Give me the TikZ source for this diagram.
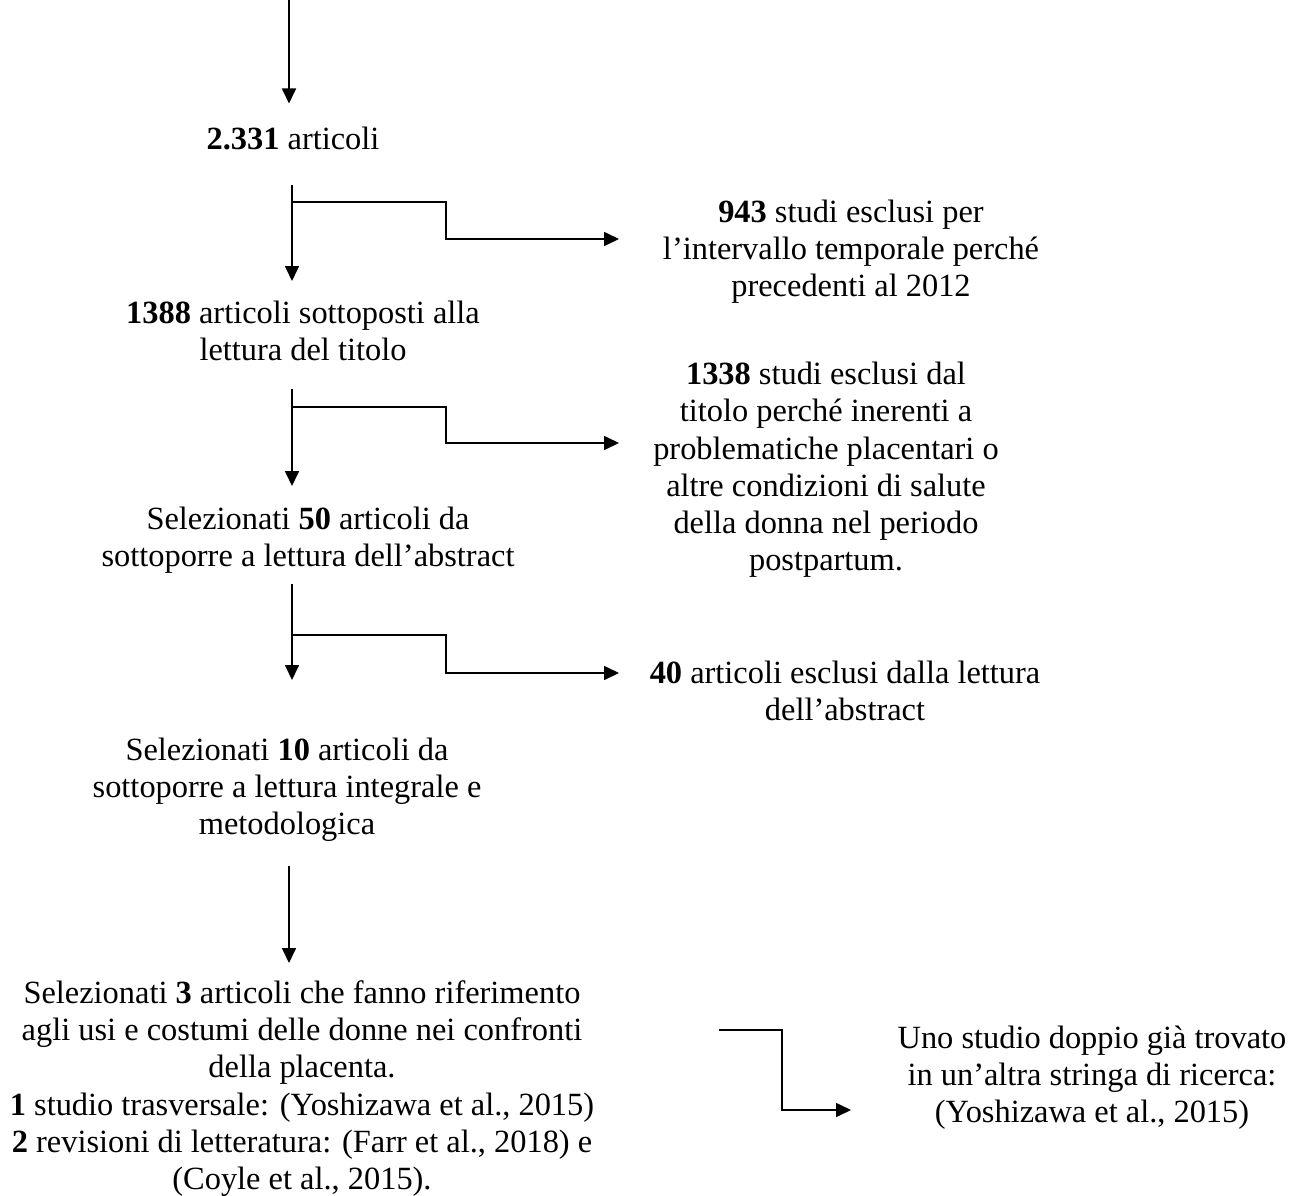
\documentclass[tikz,border=0pt]{standalone}
\usepackage{fontspec}
\setmainfont{Liberation Serif}
\usetikzlibrary{arrows.meta}
\begin{document}
\begin{tikzpicture}[x=1pt,y=-1pt,
  txt/.style={align=center, inner sep=0pt, font=\fontsize{32.4}{37.2}\selectfont},
  conn/.style={line width=1.7pt, -{Triangle[length=15pt,width=14pt]}}]
\useasboundingbox (0,0) rectangle (1296,1196);

% text blocks
\node[txt] (n0) at (293,138) {\textbf{2.331} articoli};
\node[txt] (x1) at (851,252) {\textbf{943} studi esclusi per\\l’intervallo temporale perché\\precedenti al 2012};
\node[txt] (n1) at (303,331) {\textbf{1388} articoli sottoposti alla\\lettura del titolo};
\node[txt] (x2) at (826,470) {\textbf{1338} studi esclusi dal\\titolo perché inerenti a\\problematiche placentari o\\altre condizioni di salute\\della donna nel periodo\\postpartum.};
\node[txt] (n2) at (308,540) {Selezionati \textbf{50} articoli da\\sottoporre a lettura dell’abstract};
\node[txt] (x3) at (845,691) {\textbf{40} articoli esclusi dalla lettura\\dell’abstract};
\node[txt] (n3) at (287,790) {Selezionati \textbf{10} articoli da\\sottoporre a lettura integrale e\\metodologica};
\node[txt] (n4) at (302,1088.5) {Selezionati \textbf{3} articoli che fanno riferimento\\agli usi e costumi delle donne nei confronti\\della placenta.\\\textbf{1} studio trasversale: (Yoshizawa et al., 2015)\\\textbf{2} revisioni di letteratura: (Farr et al., 2018) e\\(Coyle et al., 2015).};
\node[txt] (x4) at (1092,1077.5) {Uno studio doppio già trovato\\in un’altra stringa di ricerca:\\(Yoshizawa et al., 2015)};

% connector coordinates
\coordinate (s0) at (289,0);    \coordinate (e0) at (289,103.5);
\coordinate (s1) at (292,185);  \coordinate (e1) at (292,281);
\coordinate (b1) at (292,202);  \coordinate (j1) at (446,202);
\coordinate (k1) at (446,239);  \coordinate (t1) at (619,239);
\coordinate (s2) at (292,389);  \coordinate (e2) at (292,486);
\coordinate (b2) at (292,407);  \coordinate (j2) at (446,407);
\coordinate (k2) at (446,443);  \coordinate (t2) at (619,443);
\coordinate (s3) at (292,584);  \coordinate (e3) at (292,680);
\coordinate (b3) at (292,635);  \coordinate (j3) at (446,635);
\coordinate (k3) at (446,673);  \coordinate (t3) at (619,673);
\coordinate (s4) at (289,866);  \coordinate (e4) at (289,963);
\coordinate (b5) at (719,1030); \coordinate (j5) at (782,1030);
\coordinate (k5) at (782,1110); \coordinate (t5) at (851,1110);

% connectors
\draw[conn] (s0) -- (e0);
\draw[conn] (s1) -- (e1);
\draw[conn] (b1) -- (j1) -- (k1) -- (t1);
\draw[conn] (s2) -- (e2);
\draw[conn] (b2) -- (j2) -- (k2) -- (t2);
\draw[conn] (s3) -- (e3);
\draw[conn] (b3) -- (j3) -- (k3) -- (t3);
\draw[conn] (s4) -- (e4);
\draw[conn] (b5) -- (j5) -- (k5) -- (t5);
\end{tikzpicture}
\end{document}
